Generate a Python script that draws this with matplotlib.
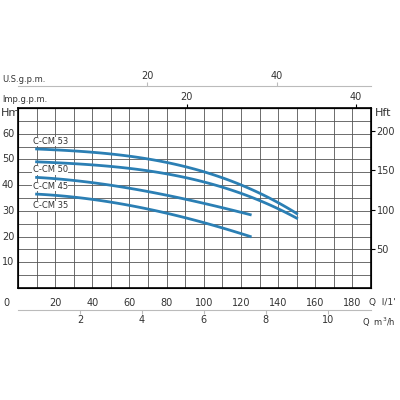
import matplotlib
matplotlib.use("Agg")
import matplotlib.pyplot as plt
import numpy as np

q53 = [10, 40, 70, 100, 120, 140, 150]
h53 = [54, 53, 50, 45, 40.5, 33, 29]
q50 = [10, 30, 60, 100, 120, 140, 150]
h50 = [49, 48.5, 46.5, 41, 37, 31, 27]
q45 = [10, 40, 80, 100, 125]
h45 = [43, 41, 36, 33, 28.5]
q35 = [10, 40, 80, 100, 125]
h35 = [36.5, 34.5, 29, 25.5, 20]
labels = ["C-CM 53", "C-CM 50", "C-CM 45", "C-CM 35"]
label_y = [57, 46, 39.5, 32]

fig = plt.figure(figsize=(4, 4), dpi=100)
ax = fig.add_axes([0.045, 0.28, 0.8825, 0.45])
ax.set_xlim(0, 190)
ax.set_ylim(0, 70)
ax.set_xticks(np.arange(0, 191, 10), minor=False)
ax.set_yticks(np.arange(0, 71, 5))
ax.grid(True, color="#555", lw=0.6)
ax.tick_params(length=0, labelleft=False, labelbottom=False)
for s in ax.spines.values():
    s.set_linewidth(1.2)

color = "#2b7fb4"
for (q, h) in [(q53, h53), (q50, h50), (q45, h45), (q35, h35)]:
    qq = np.linspace(q[0], q[-1], 100)
    p = np.polyfit(q, h, 3)
    ax.plot(qq, np.polyval(p, qq), color=color, lw=2)
for lab, y in zip(labels, label_y):
    ax.text(8, y, lab, fontsize=6, color="#333", va="center",
            bbox=dict(fc="white", ec="none", pad=0.3))

fs = 7
for v in range(10, 61, 10):
    ax.text(-2, v, str(v), fontsize=fs, ha="right", va="center", color="#333")
ax.text(-9, 70, "Hm", fontsize=fs+1, ha="left", va="top", color="#333")
ax.text(-6, -4, "0", fontsize=fs, ha="center", va="top", color="#333")
for v in range(20, 181, 20):
    ax.text(v, -4, str(v), fontsize=fs, ha="center", va="top", color="#333")
ax.text(189, -4, "Q  l/1'", fontsize=6.5, ha="left", va="top", color="#333")

axr = ax.twinx()
axr.set_ylim(0, 70 * 3.281)
axr.set_yticks([50, 100, 150, 200])
axr.tick_params(length=3, labelsize=fs, labelcolor="#333", pad=1)
axr.text(1.01, 1.0, "Hft", transform=ax.transAxes, fontsize=fs+1, va="top", color="#333")

imp = ax.secondary_xaxis("top", functions=(lambda x: x / 4.546, lambda x: x * 4.546))
imp.set_xticks([20, 40])
imp.tick_params(length=3, labelsize=fs, labelcolor="#333", pad=1)
fig.text(0.005, 0.745, "lmp.g.p.m.", fontsize=6, color="#333")

us = ax.secondary_xaxis(1.12, functions=(lambda x: x / 3.48, lambda x: x * 3.48))
us.set_xticks([20, 40])
us.spines["top"].set_color("#bbb")
us.tick_params(length=3, labelsize=fs, labelcolor="#333", pad=1, color="#bbb")
fig.text(0.005, 0.795, "U.S.g.p.m.", fontsize=6, color="#333")

m3 = ax.secondary_xaxis(-0.12, functions=(lambda x: x * 0.06, lambda x: x / 0.06))
m3.set_xticks([2, 4, 6, 8, 10])
m3.spines["bottom"].set_color("#bbb")
m3.tick_params(length=3, labelsize=fs, labelcolor="#333", pad=1, color="#bbb")
fig.text(0.905, 0.185, "Q  m$^3$/h", fontsize=6, color="#333")

fig.savefig("out.png", dpi=100)
